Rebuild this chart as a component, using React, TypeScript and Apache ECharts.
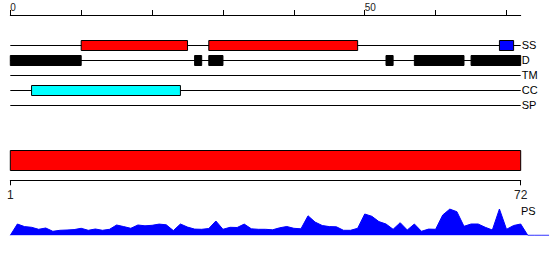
import React, { useEffect, useRef } from 'react';
import * as echarts from 'echarts';

// ---- data ----
const seqStart = 0;
const seqEnd = 72;
const trackNames = ['SS', 'D', 'TM', 'CC', 'SP'];
const topTickValues = [0, 10, 20, 30, 40, 50, 60, 70];
const topLabelValues = [0, 50];
const bottomTickValues = [1, 72];

// [start, end, trackIndex, colour]
const ssSegments: [number, number, number, string][] = [
  [10, 25, 0, '#ff0000'],
  [28, 49, 0, '#ff0000'],
  [69, 71, 0, '#0000ff'],
];
const disorderSegments: [number, number, number, string][] = [
  [0, 10, 1, '#000000'],
  [26, 27, 1, '#000000'],
  [28, 30, 1, '#000000'],
  [53, 54, 1, '#000000'],
  [57, 64, 1, '#000000'],
  [65, 72, 1, '#000000'],
];
const coiledCoilSegments: [number, number, number, string][] = [[3, 24, 3, '#00ffff']];
const proteinSpan: [number, number] = [1, 72];

const psPositions = [
  0, 1, 2, 3, 4, 5, 6, 7, 8, 9, 10, 11, 12, 13, 14, 15, 16, 17, 18, 19, 20, 21, 22, 23, 24, 25,
  26, 27, 28, 29, 30, 31, 32, 33, 34, 35, 36, 37, 38, 39, 40, 41, 42, 43, 44, 45, 46, 47, 48, 49,
  50, 51, 52, 53, 54, 55, 56, 57, 58, 59, 60, 61, 62, 63, 64, 65, 66, 67, 68, 69, 70, 71, 72, 73,
  74, 75, 76,
];
const psValues = [
  0, 11.3, 8.7, 8, 6, 7.3, 4, 5, 5.3, 5.7, 7, 5, 6.3, 5, 6, 10.3, 8.7, 7, 10.3, 9.5, 10, 11.2,
  10.5, 4.7, 11.3, 8.2, 6.2, 6, 6.8, 14.3, 6, 8, 7.8, 11.2, 6.5, 6, 6, 5.5, 7.5, 8.8, 7, 6.5,
  19.5, 13.2, 9.8, 8.7, 8.5, 5, 5, 7, 21.3, 19, 13.7, 11.3, 6, 12.6, 5.3, 11.3, 4, 6.2, 6, 20.3,
  26.2, 23.6, 9, 11.3, 11.3, 8, 5.3, 26.3, 6, 9.8, 11.3, 0, 0, 0, 0,
];

const X0 = 10.3;
const W = 510.4;
const PX_PER_UNIT = W / (seqEnd - seqStart);

export default function App() {
  const ref = useRef<HTMLDivElement>(null);
  useEffect(() => {
    if (!ref.current) return;
    const chart = echarts.init(ref.current, undefined, { renderer: 'svg' });

    const boxRender = (h: number) => (params: any, api: any) => {
      const s = api.value(0);
      const e = api.value(1);
      const t = api.value(2);
      const p0 = api.coord([s, t]);
      const p1 = api.coord([e, t]);
      const yc = Math.round(p0[1]);
      return {
        type: 'rect',
        shape: { x: p0[0], y: yc - h / 2 + 0.5, width: p1[0] - p0[0], height: h },
        style: { fill: api.visual('color'), stroke: '#000', lineWidth: 1 },
      };
    };

    const lineRender = (params: any, api: any) => {
      const t = api.value(2);
      const p0 = api.coord([api.value(0), t]);
      const p1 = api.coord([api.value(1), t]);
      const y = Math.round(p0[1]) + 0.5;
      return {
        type: 'line',
        shape: { x1: p0[0], y1: y, x2: p1[0], y2: y },
        style: { stroke: '#000', lineWidth: 1 },
      };
    };

    const toItems = (arr: [number, number, number, string][]) =>
      arr.map((d) => ({ value: [d[0], d[1], d[2] + 2], itemStyle: { color: d[3] } }));

    const psMax = 30;
    const psWidth = PX_PER_UNIT * (psPositions[psPositions.length - 1] - psPositions[0]);

    chart.setOption({
      animation: false,
      grid: [
        { left: X0, width: W, top: 15, height: 105 },
        { left: X0, width: W, top: 145.3, height: 35 },
        { left: X0, width: psWidth, top: 205.3, height: 30 },
      ],
      xAxis: [
        {
          gridIndex: 0,
          type: 'value',
          position: 'top',
          min: seqStart,
          max: seqEnd,
          interval: 10,
          axisLine: { show: true, onZero: false, lineStyle: { color: '#000', width: 1 } },
          axisTick: { show: true, length: 5, customValues: topTickValues, lineStyle: { color: '#000' } },
          axisLabel: {
            customValues: topLabelValues,
            align: 'left',
            margin: 3,
            fontSize: 10,
            color: '#222',
            fontFamily: 'sans-serif',
          },
          splitLine: { show: false },
        },
        {
          gridIndex: 1,
          type: 'value',
          position: 'bottom',
          min: proteinSpan[0],
          max: proteinSpan[1],
          axisLine: { show: true, onZero: false, lineStyle: { color: '#000', width: 1 } },
          axisTick: { show: true, length: 5, customValues: bottomTickValues, lineStyle: { color: '#000' } },
          axisLabel: {
            customValues: bottomTickValues,
            margin: 9,
            fontSize: 12,
            color: '#222',
            fontFamily: 'sans-serif',
          },
          splitLine: { show: false },
        },
        {
          gridIndex: 2,
          type: 'value',
          min: psPositions[0],
          max: psPositions[psPositions.length - 1],
          show: false,
        },
      ],
      yAxis: [
        {
          gridIndex: 0,
          type: 'value',
          min: 0,
          max: 7,
          interval: 1,
          inverse: true,
          position: 'right',
          axisLine: { show: false, onZero: false },
          axisTick: { show: false },
          splitLine: { show: false },
          axisLabel: {
            margin: 1,
            fontSize: 11,
            color: '#000',
            fontFamily: 'sans-serif',
            formatter: (v: number) => trackNames[v - 2] ?? '',
          },
        },
        {
          gridIndex: 1,
          type: 'value',
          min: 0,
          max: 7,
          inverse: true,
          show: false,
        },
        {
          gridIndex: 2,
          type: 'value',
          min: 0,
          max: psMax,
          show: false,
        },
      ],
      graphic: [
        {
          type: 'text',
          left: 521,
          top: 205,
          style: { text: 'PS', fontSize: 11, fill: '#000', fontFamily: 'sans-serif' },
        },
      ],
      series: [
        {
          type: 'custom',
          xAxisIndex: 0,
          yAxisIndex: 0,
          encode: { x: [0, 1], y: 2 },
          renderItem: lineRender,
          data: trackNames.map((_, i) => [seqStart, seqEnd, i + 2]),
          z: 1,
          silent: true,
        },
        {
          type: 'custom',
          xAxisIndex: 0,
          yAxisIndex: 0,
          encode: { x: [0, 1], y: 2 },
          renderItem: boxRender(10),
          data: [...toItems(ssSegments), ...toItems(disorderSegments), ...toItems(coiledCoilSegments)],
          z: 2,
          silent: true,
        },
        {
          type: 'custom',
          xAxisIndex: 1,
          yAxisIndex: 1,
          encode: { x: [0, 1], y: 2 },
          renderItem: boxRender(20),
          data: [{ value: [proteinSpan[0], proteinSpan[1], 3], itemStyle: { color: '#ff0000' } }],
          silent: true,
        },
        {
          type: 'line',
          xAxisIndex: 2,
          yAxisIndex: 2,
          data: psPositions.map((p, i) => [p, psValues[i]]),
          symbol: 'none',
          lineStyle: { color: '#0000ff', width: 1 },
          areaStyle: { color: '#0000ff', opacity: 1 },
          itemStyle: { color: '#0000ff' },
          silent: true,
        },
      ],
    });
    return () => chart.dispose();
  }, []);
  return <div ref={ref} style={{ width: 550, height: 260, position: 'absolute', left: 0, top: 0 }} />;
}
